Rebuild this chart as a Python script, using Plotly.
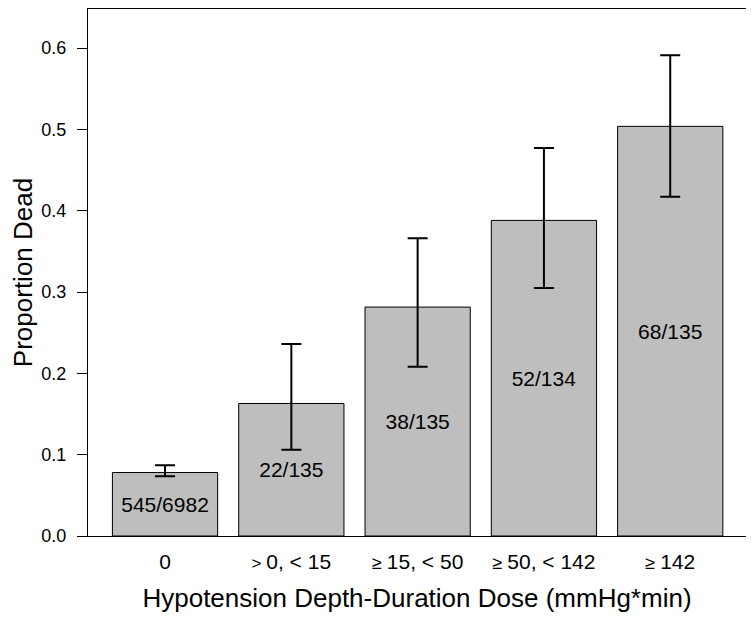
import plotly.graph_objects as go

categories = ["0",
              "<span style='font-size:17px'>&gt; </span>0, &lt; 15",
              "<span style='font-size:18px'>≥ </span>15, &lt; 50",
              "<span style='font-size:18px'>≥ </span>50, &lt; 142",
              "<span style='font-size:18px'>≥ </span>142"]
deaths = [545, 22, 38, 52, 68]
totals = [6982, 135, 135, 134, 135]
ci_low = [0.0736, 0.106, 0.208, 0.305, 0.417]
ci_high = [0.087, 0.236, 0.366, 0.477, 0.591]

props = [d / t for d, t in zip(deaths, totals)]
labels = [f"{d}/{t}" for d, t in zip(deaths, totals)]
err_plus = [h - p for h, p in zip(ci_high, props)]
err_minus = [p - l for l, p in zip(ci_low, props)]
xs = list(range(len(categories)))

font = "Liberation Sans, Arial, sans-serif"

fig = go.Figure()
fig.add_trace(go.Bar(
    x=xs, y=props,
    marker=dict(color="#bebebe", line=dict(color="black", width=1)),
    text=labels, textposition="inside", insidetextanchor="middle",
    textfont=dict(family=font, size=21, color="black"),
    textangle=0,
    error_y=dict(type="data", symmetric=False, array=err_plus, arrayminus=err_minus,
                 color="black", thickness=2, width=10),
    width=1/1.2,
    showlegend=False,
))

fig.update_layout(
    width=754, height=624,
    margin=dict(l=80, r=16, t=1, b=96, pad=0),
    paper_bgcolor="white", plot_bgcolor="white",
    font=dict(family=font, color="black"),
    uniformtext=dict(mode=False),
)
fig.update_xaxes(
    range=[-0.61, 4.6],
    tickmode="array", tickvals=xs, ticktext=categories,
    tickfont=dict(size=21), ticks="", ticklen=0, ticklabelstandoff=7,
    showline=True, linecolor="black", linewidth=1, mirror=True,
    showgrid=False, zeroline=False,
    title=dict(text="Hypotension Depth-Duration Dose (mmHg*min)", font=dict(size=26), standoff=16),
)
fig.update_yaxes(
    range=[0, 0.648],
    tickmode="array", tickvals=[0, 0.1, 0.2, 0.3, 0.4, 0.5, 0.6],
    ticktext=["0.0", "0.1", "0.2", "0.3", "0.4", "0.5", "0.6"],
    tickfont=dict(size=18), ticks="outside", ticklen=10, tickcolor="black",
    ticklabelstandoff=7,
    showline=True, linecolor="black", linewidth=1, mirror=True,
    showgrid=False, zeroline=False,
    title=dict(text="Proportion Dead", font=dict(size=26), standoff=14),
)
fig.write_html("out.html")
